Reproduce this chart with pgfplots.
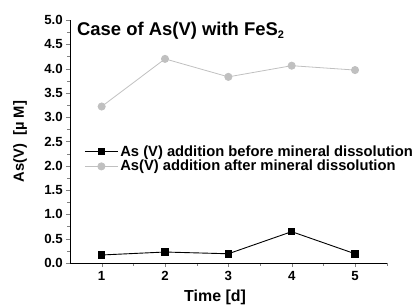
\documentclass[border=0pt]{standalone}
\usepackage{pgfplots}
\pgfplotsset{compat=1.18}
\usepackage{fontspec}
\setmainfont{Liberation Sans}
\definecolor{lg}{RGB}{192,192,192}
\begin{document}
\begin{tikzpicture}[x=1bp,y=1bp]
\useasboundingbox (0,0) rectangle (415,305);
\begin{axis}[
  at={(70bp,42bp)}, anchor=south west,
  scale only axis, width=316.7bp, height=243bp,
  xmin=0.5, xmax=5.5, ymin=0, ymax=5,
  axis x line*=bottom, axis y line*=left,
  xtick={1,2,3,4,5}, minor xtick={1.5,2.5,3.5,4.5,5.5},
  ytick={0,0.5,...,5}, minor ytick={0.25,0.75,...,4.75},
  tick align=outside, major tick length=4bp, minor tick length=2.5bp,
  /pgf/number format/assume math mode=true,
  /pgf/number format/fixed, /pgf/number format/fixed zerofill, /pgf/number format/precision=1,
  xticklabel style={/pgf/number format/precision=0},
  tick label style={font=\bfseries\fontsize{13.3}{15}\selectfont},
  yticklabel style={inner sep=1bp, xshift=-2bp},
  xticklabel style={inner sep=1bp, yshift=-3bp},
  xlabel={\bfseries Time [d]}, ylabel={\bfseries As(V)\ \ [µ M]},
  xlabel style={font=\bfseries\fontsize{16}{18}\selectfont, at={(axis description cs:0.458,0)}, anchor=base, yshift=-38.5bp, inner sep=0},
  ylabel style={font=\bfseries\fontsize{14.8}{17}\selectfont, at={(axis description cs:-0.158,0.5)}, anchor=center, inner sep=0},
  axis line style={line width=0.9bp},
  legend style={at={(rel axis cs:0.045,0.492)}, anchor=north west, draw=none, fill=none,
    font=\bfseries\fontsize{14.8}{17}\selectfont, row sep=-1.5bp, inner sep=0},
  legend cell align=left,
  legend image code/.code={\draw[#1] (0bp,0bp) -- (33bp,0bp); \draw[#1,mark repeat=1] plot coordinates {(16.5bp,0bp)};},
]
\addplot[black, line width=0.9bp, mark=square*, mark size=3.2bp] coordinates {(1,0.165) (2,0.226) (3,0.19) (4,0.645) (5,0.19)};
\addlegendentry{As (V) addition before mineral dissolution}
\addplot[lg, line width=0.8bp, mark=*, mark size=3.6bp] coordinates {(1,3.22) (2,4.20) (3,3.83) (4,4.06) (5,3.97)};
\addlegendentry{As(V) addition after mineral dissolution}
\node[anchor=base west, font=\bfseries\fontsize{18.5}{21}\selectfont, inner sep=0] at (rel axis cs:0.022,0.938) {Case of As(V) with FeS\raisebox{-0.35ex}{\fontsize{11}{12}\selectfont 2}};
\end{axis}
\end{tikzpicture}
\end{document}
